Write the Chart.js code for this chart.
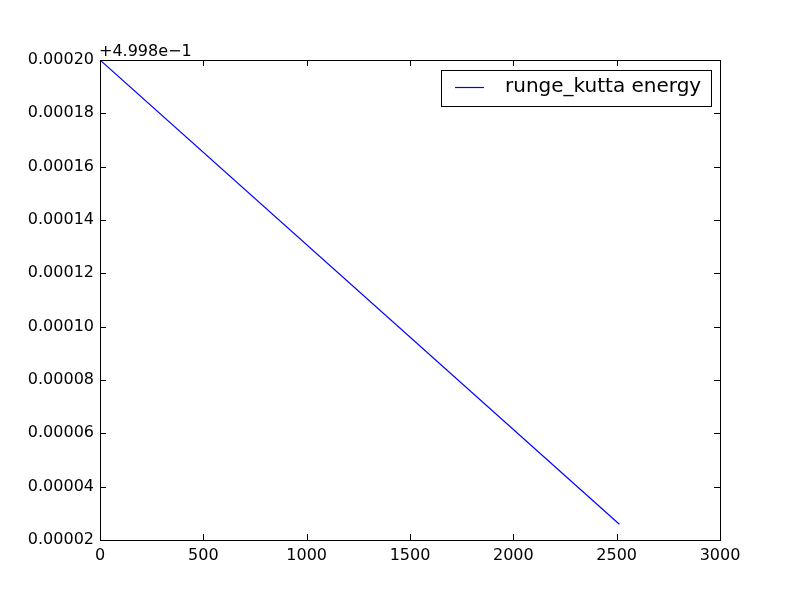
<!DOCTYPE html>
<html>
<head>
<meta charset="utf-8">
<script src="https://cdn.jsdelivr.net/npm/chart.js@4/dist/chart.umd.min.js"></script>
<style>
  html, body { margin: 0; padding: 0; background: #fff; }
  #wrap { width: 800px; height: 600px; }
</style>
</head>
<body>
<div id="wrap"><canvas id="energyChart" width="800" height="600"></canvas></div>
<script>
// values (y shown relative to offset 4.998e-1)
var steps = [0, 2513];
var energy = [0.00020, 0.0000259];
var seriesLabel = 'runge_kutta energy';
var offsetText = '+4.998e\u22121';
var xTicks = [0, 500, 1000, 1500, 2000, 2500, 3000];
var yTicks = [0.00002, 0.00004, 0.00006, 0.00008, 0.00010, 0.00012, 0.00014, 0.00016, 0.00018, 0.00020];

var FONT = 'DejaVu Sans';

// matplotlib style: inward ticks on all four sides, offset text, framed legend
var mplPlugin = {
    id: 'mpl',
    afterDraw: function (chart) {
        var ctx = chart.ctx;
        var a = chart.chartArea;
        var xs = chart.scales.x, ys = chart.scales.y;
        ctx.save();
        ctx.strokeStyle = '#000';
        ctx.lineWidth = 1;
        ctx.beginPath();
        xTicks.forEach(function (v) {
            var px = Math.round(xs.getPixelForValue(v)) + 0.5;
            ctx.moveTo(px, a.bottom); ctx.lineTo(px, a.bottom - 6);
            ctx.moveTo(px, a.top); ctx.lineTo(px, a.top + 6);
        });
        yTicks.forEach(function (v) {
            var py = Math.round(ys.getPixelForValue(v)) + 0.5;
            ctx.moveTo(a.left, py); ctx.lineTo(a.left + 6, py);
            ctx.moveTo(a.right, py); ctx.lineTo(a.right - 6, py);
        });
        ctx.stroke();

        // frame
        ctx.strokeRect(a.left + 0.5, a.top + 0.5, a.right - a.left, a.bottom - a.top);

        // offset text
        ctx.fillStyle = '#000';
        ctx.font = '16px "' + FONT + '"';
        ctx.textAlign = 'left';
        ctx.textBaseline = 'alphabetic';
        ctx.fillText(offsetText, a.left - 1, a.top - 4);

        // legend
        var lx = 441, ly = 70, lw = 270, lh = 36;
        ctx.fillStyle = '#fff';
        ctx.fillRect(lx, ly, lw, lh);
        ctx.strokeRect(lx + 0.5, ly + 0.5, lw, lh);
        ctx.strokeStyle = '#0000ff';
        ctx.lineWidth = 1.2;
        ctx.beginPath();
        ctx.moveTo(455, 87.5); ctx.lineTo(484, 87.5);
        ctx.stroke();
        ctx.fillStyle = '#000';
        ctx.font = '20px "' + FONT + '"';
        ctx.textBaseline = 'middle';
        ctx.fillText(seriesLabel, 505, 87);
        ctx.restore();
    }
};

var chart = new Chart(document.getElementById('energyChart'), {
    type: 'line',
    data: {
        datasets: [{
            label: seriesLabel,
            data: steps.map(function (s, i) { return {x: s, y: energy[i]}; }),
            borderColor: '#0000ff',
            borderWidth: 1.2,
            pointRadius: 0,
            fill: false,
            tension: 0
        }]
    },
    options: {
        responsive: false,
        animation: false,
        devicePixelRatio: 1,
        layout: {padding: {left: 0, top: 60, right: 80, bottom: 0}},
        plugins: {
            legend: {display: false},
            tooltip: {enabled: false}
        },
        scales: {
            x: {
                type: 'linear',
                min: 0,
                max: 3000,
                grid: {display: false, drawTicks: false},
                border: {display: false},
                afterBuildTicks: function (s) { s.ticks = xTicks.map(function (v) { return {value: v}; }); },
                afterFit: function (s) { s.height = 60; },
                ticks: {
                    color: '#000',
                    padding: 6,
                    maxRotation: 0,
                    font: {family: FONT, size: 16},
                    callback: function (v) { return String(v); }
                }
            },
            y: {
                type: 'linear',
                min: 0.00002,
                max: 0.00020,
                grid: {display: false, drawTicks: false},
                border: {display: false},
                afterBuildTicks: function (s) { s.ticks = yTicks.map(function (v) { return {value: v}; }); },
                afterFit: function (s) { s.width = 100; },
                ticks: {
                    color: '#000',
                    padding: 6,
                    font: {family: FONT, size: 16},
                    callback: function (v) { return Number(v).toFixed(5); }
                }
            }
        }
    },
    plugins: [mplPlugin]
});
</script>
</body>
</html>
